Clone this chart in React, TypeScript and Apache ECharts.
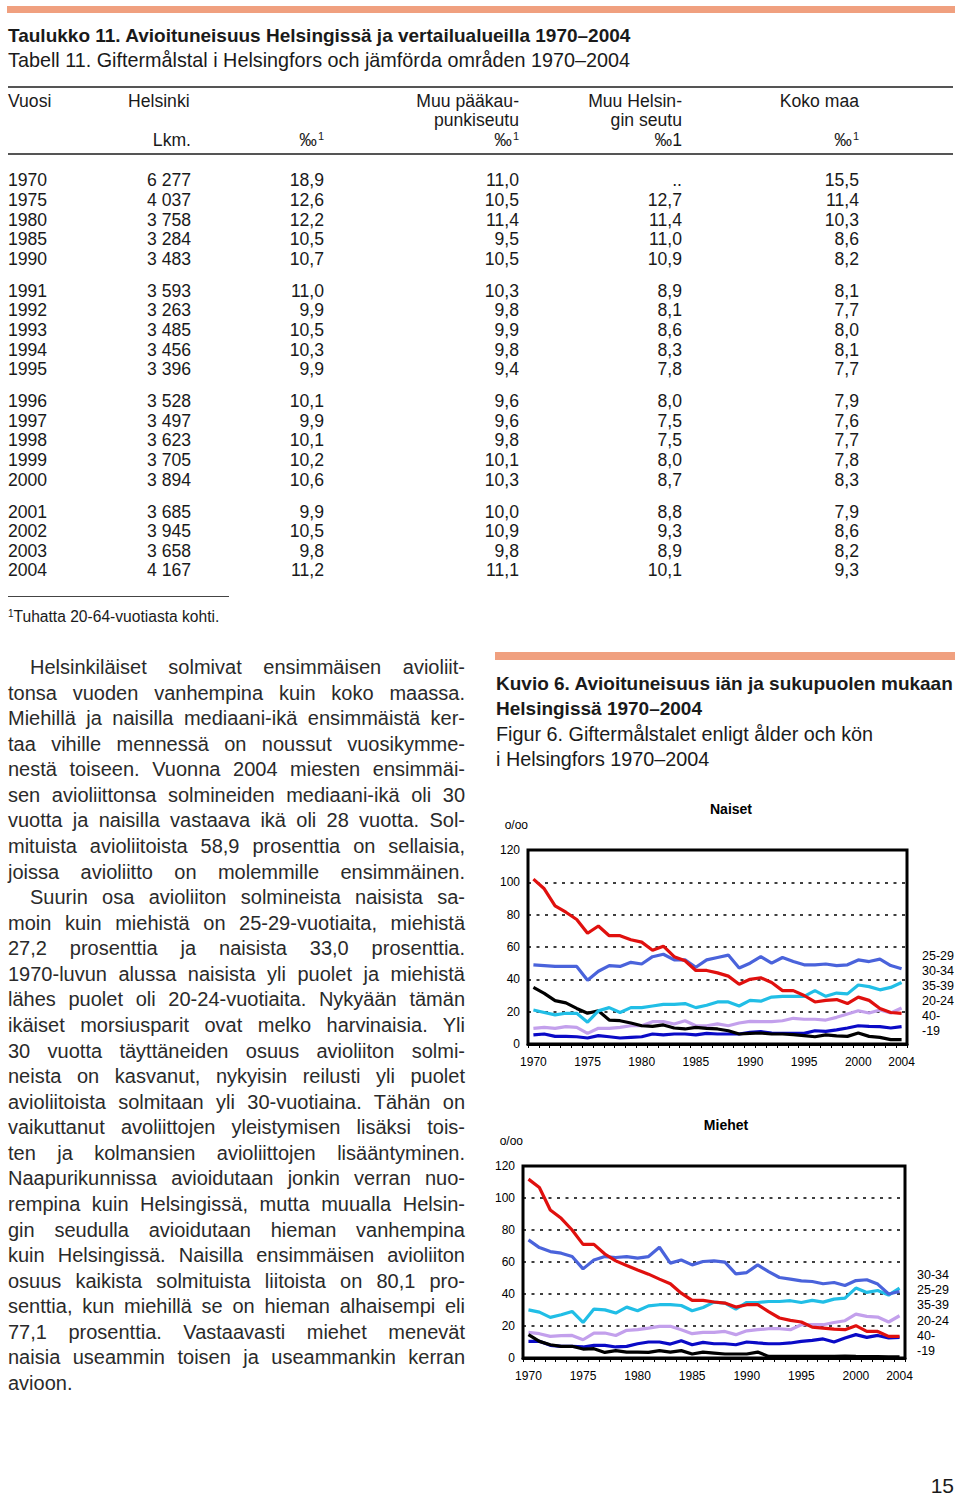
import React, { useEffect, useRef } from "react";
import * as echarts from "echarts";

// ---------- Table data ----------
const tableYears = [1970, 1975, 1980, 1985, 1990, 1991, 1992, 1993, 1994, 1995, 1996, 1997, 1998, 1999, 2000, 2001, 2002, 2003, 2004];
const helsinkiCount = [6277, 4037, 3758, 3284, 3483, 3593, 3263, 3485, 3456, 3396, 3528, 3497, 3623, 3705, 3894, 3685, 3945, 3658, 4167];
const helsinkiRate = [18.9, 12.6, 12.2, 10.5, 10.7, 11.0, 9.9, 10.5, 10.3, 9.9, 10.1, 9.9, 10.1, 10.2, 10.6, 9.9, 10.5, 9.8, 11.2];
const muuPaakRate = [11.0, 10.5, 11.4, 9.5, 10.5, 10.3, 9.8, 9.9, 9.8, 9.4, 9.6, 9.6, 9.8, 10.1, 10.3, 10.0, 10.9, 9.8, 11.1];
const muuHelsRate: (number | null)[] = [null, 12.7, 11.4, 11.0, 10.9, 8.9, 8.1, 8.6, 8.3, 7.8, 8.0, 7.5, 7.5, 8.0, 8.7, 8.8, 9.3, 8.9, 10.1];
const kokoMaaRate = [15.5, 11.4, 10.3, 8.6, 8.2, 8.1, 7.7, 8.0, 8.1, 7.7, 7.9, 7.6, 7.7, 7.8, 8.3, 7.9, 8.6, 8.2, 9.3];

// ---------- Chart data ----------
const years = ["1970", "1971", "1972", "1973", "1974", "1975", "1976", "1977", "1978", "1979", "1980", "1981", "1982", "1983", "1984", "1985", "1986", "1987", "1988", "1989", "1990", "1991", "1992", "1993", "1994", "1995", "1996", "1997", "1998", "1999", "2000", "2001", "2002", "2003", "2004"];
const shownYearLabels = ["1970", "1975", "1980", "1985", "1990", "1995", "2000", "2004"];

const naiset20_24 = [102, 96, 85.5, 81.5, 77, 68.5, 73, 67, 67, 64.5, 63, 58, 60.5, 54, 51.5, 45.5, 45.5, 44, 42, 37, 40, 41, 38, 33, 33, 30, 26, 27, 27.5, 25, 29, 27, 22, 19.5, 19];
const naiset25_29 = [49, 48.5, 48, 48, 48, 39.5, 45, 48.5, 48, 50.5, 49.5, 54, 55.5, 52, 52, 47.5, 52, 53.5, 55, 47, 50, 54, 50, 53.5, 51, 49, 49, 49.5, 48.5, 49, 52, 51, 52.5, 48.5, 46.5];
const naiset30_34 = [21, 19.5, 18, 19, 19, 13.5, 20.5, 22.5, 19.5, 22.5, 22.5, 23.5, 24.5, 24.5, 25, 22.5, 24, 26, 26, 23.5, 27, 26.5, 29, 29.5, 29.5, 29.5, 33, 29.5, 31.5, 31, 36.5, 35.5, 33.5, 35, 38];
const naiset35_39 = [9.7, 10.3, 9.7, 10.7, 10.3, 6.6, 9.7, 9.7, 10.3, 11.3, 11.3, 13.8, 13.8, 12.4, 14.4, 11.3, 11.3, 12.4, 11.3, 13, 14, 13.8, 13.8, 14.4, 15.9, 15.3, 15.3, 14.8, 16.5, 18.6, 20.6, 19.2, 21, 19.2, 22.3];
const naiset40 = [5.6, 6.2, 4.7, 4.7, 4.5, 3.7, 5.2, 4.5, 3.7, 4.1, 4.5, 6.2, 5.6, 6.2, 6.2, 5.6, 6.6, 6.2, 6.2, 6.2, 7.2, 7.6, 6.8, 6.6, 6.6, 6.6, 8.2, 7.8, 8.7, 9.9, 11.3, 10.9, 10.7, 9.9, 10.7];
const naiset19 = [35, 31.3, 26.8, 25.4, 22, 19, 20.6, 14.8, 14.4, 13, 11.3, 10.9, 11.8, 9.9, 9.3, 10.3, 9.7, 9.3, 8.2, 6.2, 6.6, 6.8, 6.2, 6.2, 5.8, 5.2, 4.5, 5.6, 5, 4.7, 6.8, 4.7, 4.1, 2.7, 2.7];

const miehet20_24 = [111.8, 106.6, 92.5, 87.3, 80, 71, 71, 65, 60.7, 57.8, 55, 52.4, 49.3, 46.4, 40.5, 36, 36, 35, 34.3, 31.8, 33.3, 33.3, 29, 25, 23.5, 22.5, 19.3, 18.7, 18, 17.7, 20.2, 16.6, 16.6, 13.5, 13.5];
const miehet25_29 = [73.8, 69, 66.5, 65.5, 63.4, 55.7, 61.3, 63.4, 62.8, 63.4, 62.4, 63.4, 69.2, 59.3, 61.3, 58.2, 60.3, 60.7, 59.9, 52.6, 53.4, 58.2, 54, 50.3, 49.3, 48.2, 47.8, 46.4, 47.2, 45.3, 48.4, 48.9, 46.2, 40, 41.6];
const miehet30_34 = [30.1, 28.7, 25.4, 27, 29.1, 22.2, 30.6, 30.1, 28.1, 31.8, 29.5, 32.6, 33.3, 33.3, 32.8, 29.5, 31.6, 34.9, 34.3, 30.6, 34.7, 34.7, 35.3, 35.3, 35.8, 34.7, 36, 34.9, 36.8, 37.4, 43.7, 41, 42.2, 39.3, 43.7];
const miehet35_39 = [16, 15.2, 13.5, 14, 14.1, 11.4, 15.6, 15.6, 14.1, 17.3, 17.7, 18.7, 19.8, 19.8, 17.7, 15.2, 16, 16, 16.6, 14.6, 17, 17.7, 18.3, 18.3, 17.7, 20.8, 20.8, 20.8, 22.2, 23.3, 27.4, 26, 25.6, 22.5, 26.4];
const miehet40 = [10.4, 10.4, 7.9, 7.3, 7.3, 6.9, 7.9, 7.9, 6.9, 7.3, 8.9, 10, 10, 8.7, 10.8, 8.3, 9.8, 8.9, 8.9, 8.3, 10, 9.4, 8.9, 8.9, 9.4, 10.4, 11, 11.9, 10, 12.5, 14.6, 12.9, 14.1, 12.5, 12.9];
const miehet19 = [14.6, 10.4, 8.3, 7.3, 7.3, 5.6, 5.8, 3.5, 4.6, 3.7, 3.7, 3.5, 4.6, 3.7, 4.6, 2.5, 3.7, 3.1, 2.5, 2.5, 2.5, 3.7, 1, 1, 1, 1, 1, 1.1, 1, 1.2, 1, 0.9, 0.8, 0.7, 0.7];

const naisetLegend = ["25-29", "30-34", "35-39", "20-24", "40-", "-19"];
const miehetLegend = ["30-34", "25-29", "35-39", "20-24", "40-", "-19"];
const yTicks = [0, 20, 40, 60, 80, 100, 120];

// ---------- Body text ----------
const bodyLines: [string, boolean][] = [
  ["Helsinkiläiset solmivat ensimmäisen avioliit-", true],
  ["tonsa vuoden vanhempina kuin koko maassa.", false],
  ["Miehillä ja naisilla mediaani-ikä ensimmäistä ker-", false],
  ["taa vihille mennessä on noussut vuosikymme-", false],
  ["nestä toiseen. Vuonna 2004 miesten ensimmäi-", false],
  ["sen avioliittonsa solmineiden mediaani-ikä oli 30", false],
  ["vuotta ja naisilla vastaava ikä oli 28 vuotta. Sol-", false],
  ["mituista avioliitoista 58,9 prosenttia on sellaisia,", false],
  ["joissa avioliitto on molemmille ensimmäinen.", false],
  ["Suurin osa avioliiton solmineista naisista sa-", true],
  ["moin kuin miehistä on 25-29-vuotiaita, miehistä", false],
  ["27,2 prosenttia ja naisista 33,0 prosenttia.", false],
  ["1970-luvun alussa naisista yli puolet ja miehistä", false],
  ["lähes puolet oli 20-24-vuotiaita. Nykyään tämän", false],
  ["ikäiset morsiusparit ovat melko harvinaisia. Yli", false],
  ["30 vuotta täyttäneiden osuus avioliiton solmi-", false],
  ["neista on kasvanut, nykyisin reilusti yli puolet", false],
  ["avioliitoista solmitaan yli 30-vuotiaina. Tähän on", false],
  ["vaikuttanut avoliittojen yleistymisen lisäksi tois-", false],
  ["ten ja kolmansien avioliittojen lisääntyminen.", false],
  ["Naapurikunnissa avioidutaan jonkin verran nuo-", false],
  ["rempina kuin Helsingissä, mutta muualla Helsin-", false],
  ["gin seudulla avioidutaan hieman vanhempina", false],
  ["kuin Helsingissä. Naisilla ensimmäisen avioliiton", false],
  ["osuus kaikista solmituista liitoista on 80,1 pro-", false],
  ["senttia, kun miehillä se on hieman alhaisempi eli", false],
  ["77,1 prosenttia. Vastaavasti miehet menevät", false],
  ["naisia useammin toisen ja useammankin kerran", false],
  ["avioon.", false],
];

const FONT = '"Liberation Sans", Arial, Helvetica, sans-serif';
const W = 960;

const fmt1 = (v: number | null) => (v === null ? ".." : v.toFixed(1).replace(".", ","));
const fmtCount = (v: number) => String(v).replace(/\B(?=(\d{3})+(?!\d))/g, " ");

type TProps = {
  x: number;
  y: number;
  size?: number;
  bold?: boolean;
  align?: "left" | "right";
  color?: string;
  lh?: number;
  children: React.ReactNode;
};

function T({ x, y, size = 17.6, bold = false, align = "left", color = "#1a1a1a", lh = 1.2, children }: TProps) {
  const style: React.CSSProperties = {
    position: "absolute",
    top: y - size * (lh / 2),
    fontSize: size,
    lineHeight: `${size * lh}px`,
    fontWeight: bold ? "bold" : "normal",
    whiteSpace: "nowrap",
    color,
    fontFamily: FONT,
  };
  if (align === "left") style.left = x;
  else style.right = W - x;
  return <div style={style}>{children}</div>;
}

const Sup = () => (
  <span style={{ fontSize: 11, position: "relative", top: -6, marginLeft: 1 }}>1</span>
);

const COL = { count: 191, hel: 324, paak: 519, hels: 682, koko: 859 };

function rowY(i: number) {
  const g = i < 5 ? 0 : i < 10 ? 1 : i < 15 ? 2 : 3;
  return 181 + i * 19.6 + g * 12.4;
}

const colors: Record<string, string> = {
  "20-24": "#E0100E",
  "25-29": "#4A63DB",
  "30-34": "#21BEE6",
  "35-39": "#C3A0EC",
  "40-": "#0A0AC6",
  "-19": "#000000",
};

function buildOption() {
  const grids = [
    { left: 528, top: 850, width: 379, height: 194 },
    { left: 523, top: 1166, width: 382, height: 192 },
  ];
  const seriesSets = [
    { "40-": naiset40, "35-39": naiset35_39, "-19": naiset19, "30-34": naiset30_34, "25-29": naiset25_29, "20-24": naiset20_24 },
    { "40-": miehet40, "35-39": miehet35_39, "-19": miehet19, "30-34": miehet30_34, "25-29": miehet25_29, "20-24": miehet20_24 },
  ];
  const series: any[] = [];
  seriesSets.forEach((set, gi) => {
    Object.keys(set).forEach((name) => {
      series.push({
        type: "line",
        name,
        xAxisIndex: gi,
        yAxisIndex: gi,
        data: (set as any)[name],
        symbol: "none",
        lineStyle: { color: colors[name], width: 3.2 },
        itemStyle: { color: colors[name] },
        z: name === "20-24" ? 4 : 3,
      });
    });
  });

  const xAxis = grids.map((_, gi) => ({
    type: "category",
    gridIndex: gi,
    data: years,
    boundaryGap: true,
    axisLine: { show: true, lineStyle: { color: "#000", width: 3 } },
    axisTick: { show: true, interval: 0, length: 4, lineStyle: { color: "#000", width: 1 } },
    axisLabel: {
      interval: (_idx: number, val: string) => shownYearLabels.indexOf(val) >= 0,
      color: "#000",
      fontSize: 12,
      fontFamily: FONT,
      margin: 12,
    },
    splitLine: { show: false },
  }));

  const yAxis = grids.map((_, gi) => ({
    type: "value",
    gridIndex: gi,
    min: yTicks[0],
    max: yTicks[yTicks.length - 1],
    interval: 20,
    name: "o/oo",
    nameLocation: "end",
    nameGap: 19,
    nameTextStyle: { align: "right", color: "#000", fontSize: 12, fontFamily: FONT },
    axisLine: { show: false },
    axisTick: { show: false },
    axisLabel: { color: "#000", fontSize: 12, fontFamily: FONT, margin: 8 },
    splitLine: { show: true, lineStyle: { color: "#000", width: 1.5, type: [3, 5.5] } },
  }));

  const graphic: any[] = [
    { type: "text", x: 731, y: 809, style: { text: "Naiset", fill: "#000", fontSize: 14, fontWeight: "bold", fontFamily: FONT, align: "center", verticalAlign: "middle" } },
    { type: "text", x: 726, y: 1125, style: { text: "Miehet", fill: "#000", fontSize: 14, fontWeight: "bold", fontFamily: FONT, align: "center", verticalAlign: "middle" } },
  ];
  naisetLegend.forEach((name, i) => {
    graphic.push({ type: "text", x: 922, y: 956 + i * 15, style: { text: name, fill: "#000", fontSize: 12.5, fontFamily: FONT, align: "left", verticalAlign: "middle" } });
  });
  miehetLegend.forEach((name, i) => {
    graphic.push({ type: "text", x: 917, y: 1275 + i * 15.2, style: { text: name, fill: "#000", fontSize: 12.5, fontFamily: FONT, align: "left", verticalAlign: "middle" } });
  });

  return {
    animation: false,
    backgroundColor: "transparent",
    grid: grids.map((g) => ({ ...g, show: true, borderColor: "#000", borderWidth: 3, backgroundColor: "transparent", containLabel: false })),
    xAxis,
    yAxis,
    series,
    graphic,
  };
}

export default function App() {
  const ref = useRef<HTMLDivElement>(null);
  useEffect(() => {
    if (!ref.current) return;
    const chart = echarts.init(ref.current, null, { renderer: "svg" });
    chart.setOption(buildOption() as any);
    return () => chart.dispose();
  }, []);

  return (
    <div style={{ position: "absolute", left: 0, top: 0, width: 960, height: 1496, background: "#fff", overflow: "hidden", fontFamily: FONT }}>
      {/* top bar */}
      <div style={{ position: "absolute", left: 7, top: 6, width: 948, height: 7, background: "#F0A07F" }} />
      <T x={8} y={36} size={19} bold>Taulukko 11. Avioituneisuus Helsingissä ja vertailualueilla 1970–2004</T>
      <T x={8} y={61} size={19.8}>Tabell 11. Giftermålstal i Helsingfors och jämförda områden 1970–2004</T>

      {/* table header */}
      <div style={{ position: "absolute", left: 8, top: 86, width: 945, height: 1.5, background: "#555" }} />
      <T x={8} y={102}>Vuosi</T>
      <T x={128} y={102}>Helsinki</T>
      <T x={COL.paak} y={102} align="right">Muu pääkau-</T>
      <T x={COL.paak} y={121} align="right">punkiseutu</T>
      <T x={COL.hels} y={102} align="right">Muu Helsin-</T>
      <T x={COL.hels} y={121} align="right">gin seutu</T>
      <T x={COL.koko} y={102} align="right">Koko maa</T>
      <T x={COL.count} y={141} align="right">Lkm.</T>
      <T x={COL.hel} y={141} align="right">‰<Sup /></T>
      <T x={COL.paak} y={141} align="right">‰<Sup /></T>
      <T x={COL.hels} y={141} align="right">‰1</T>
      <T x={COL.koko} y={141} align="right">‰<Sup /></T>
      <div style={{ position: "absolute", left: 8, top: 153, width: 945, height: 1.5, background: "#555" }} />

      {tableYears.map((yr, i) => {
        const y = rowY(i);
        return (
          <React.Fragment key={yr}>
            <T x={8} y={y}>{String(yr)}</T>
            <T x={COL.count} y={y} align="right">{fmtCount(helsinkiCount[i])}</T>
            <T x={COL.hel} y={y} align="right">{fmt1(helsinkiRate[i])}</T>
            <T x={COL.paak} y={y} align="right">{fmt1(muuPaakRate[i])}</T>
            <T x={COL.hels} y={y} align="right">{fmt1(muuHelsRate[i])}</T>
            <T x={COL.koko} y={y} align="right">{fmt1(kokoMaaRate[i])}</T>
          </React.Fragment>
        );
      })}

      <div style={{ position: "absolute", left: 8, top: 596, width: 221, height: 1, background: "#444" }} />
      <T x={8} y={617} size={15.6}>
        <span style={{ fontSize: 10, position: "relative", top: -5 }}>1</span>Tuhatta 20-64-vuotiasta kohti.
      </T>

      {/* body text */}
      {bodyLines.map(([line, indent], i) => {
        const last = i === bodyLines.length - 1;
        const left = indent ? 30 : 8;
        const size = 20;
        const y = 667 + i * 25.57;
        return (
          <div
            key={i}
            style={{
              position: "absolute",
              left,
              top: y - size * 0.6,
              width: 465 - left,
              fontSize: size,
              lineHeight: `${size * 1.2}px`,
              whiteSpace: "nowrap",
              color: "#2a2a2a",
              textAlign: last ? "left" : "justify",
              textAlignLast: last ? "left" : "justify",
              fontFamily: FONT,
            }}
          >
            {line}
          </div>
        );
      })}

      {/* right column heading */}
      <div style={{ position: "absolute", left: 495, top: 652, width: 460, height: 8, background: "#F0A07F" }} />
      <T x={496} y={684} size={19} bold>Kuvio 6. Avioituneisuus iän ja sukupuolen mukaan</T>
      <T x={496} y={709} size={19} bold>Helsingissä 1970–2004</T>
      <T x={496} y={735} size={19.8}>Figur 6. Giftermålstalet enligt ålder och kön</T>
      <T x={496} y={760} size={19.8}>i Helsingfors 1970–2004</T>

      <T x={954} y={1485} size={21} lh={1.0} align="right">15</T>

      <div ref={ref} style={{ position: "absolute", left: 0, top: 0, width: 960, height: 1496, pointerEvents: "none" }} />
    </div>
  );
}
